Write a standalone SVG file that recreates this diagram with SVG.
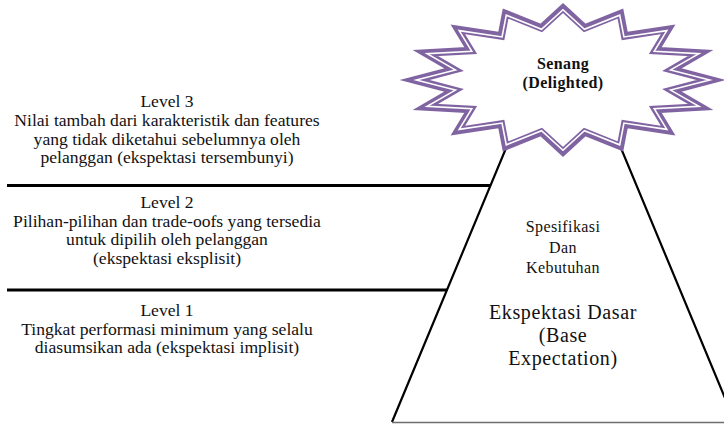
<svg xmlns="http://www.w3.org/2000/svg" width="724" height="424" viewBox="0 0 724 424">
  <style>
    .lvl { font-family: "Liberation Serif", "Times New Roman", serif; font-size: 17.6px; fill: #111; text-anchor: middle; }
    .pyr { font-family: "Liberation Serif", "Times New Roman", serif; fill: #111; text-anchor: middle; }
    .star-text { font-family: "Liberation Serif", "Times New Roman", serif; font-size: 16px; font-weight: bold; fill: #111; text-anchor: middle; letter-spacing: 0.4px; }
    .divider { stroke: #000; stroke-width: 3; fill: none; }
  </style>
  <defs>
    <!-- 16-point burst centred at (563,80) -->
    <path id="burst" d="M563,8 L584.7,28 L620.4,13.6 L624.7,35.9 L668.1,29.4 L655.3,50.6 L700.6,53.1 L671.9,69.7 L711.5,80 L671.9,90.3 L700.6,106.9 L655.3,109.4 L668.1,130.6 L624.7,124.1 L620.4,146.4 L584.7,132 L563,152 L541.3,132 L505.6,146.4 L501.3,124.1 L457.9,130.6 L470.7,109.4 L425.4,106.9 L454.1,90.3 L414.5,80 L454.1,69.7 L425.4,53.1 L470.7,50.6 L457.9,29.4 L501.3,35.9 L505.6,13.6 L541.3,28 Z"/>
  </defs>
  <rect width="724" height="424" fill="#fff"/>

  <!-- level dividers -->
  <g id="connectors">
    <line class="divider" x1="7" y1="185.5" x2="490" y2="185.5"/>
    <line class="divider" x1="7" y1="290" x2="447" y2="290"/>
  </g>

  <!-- pyramid -->
  <g id="pyramid">
    <polyline points="392,422 563.5,10 735,422" fill="#fff" stroke="#000" stroke-width="2.2" stroke-linejoin="miter"/>
    <line x1="392" y1="422.5" x2="724" y2="422.5" stroke="#6e6e6e" stroke-width="1.5"/>
    <text class="pyr" font-size="16" letter-spacing="0.4" x="563" y="232">Spesifikasi</text>
    <text class="pyr" font-size="16" letter-spacing="0.4" x="563" y="253">Dan</text>
    <text class="pyr" font-size="16" letter-spacing="0.4" x="563" y="273">Kebutuhan</text>
    <text class="pyr" font-size="20" letter-spacing="0.6" x="563" y="319">Ekspektasi Dasar</text>
    <text class="pyr" font-size="20" letter-spacing="0.6" x="563" y="342">(Base</text>
    <text class="pyr" font-size="20" letter-spacing="0.6" x="563" y="365">Expectation)</text>
  </g>

  <!-- burst at the apex: thick outer rim with a thin inner rim -->
  <g id="senang">
    <use href="#burst" fill="#fff" stroke="#8064A2" stroke-width="7.5" stroke-linejoin="miter" stroke-miterlimit="12"/>
    <use href="#burst" fill="none" stroke="#fff" stroke-width="1.6" stroke-linejoin="miter" stroke-miterlimit="12" transform="translate(563 80) scale(0.988 0.976) translate(-563 -80)"/>
    <text class="star-text" x="563" y="69">Senang</text>
    <text class="star-text" x="563" y="88">(Delighted)</text>
  </g>

  <g id="level3">
    <text class="lvl" x="167" y="107">Level 3</text>
    <text class="lvl" x="167" y="126">Nilai tambah dari karakteristik dan features</text>
    <text class="lvl" x="167" y="144.5">yang tidak diketahui sebelumnya oleh</text>
    <text class="lvl" x="167" y="163">pelanggan (ekspektasi tersembunyi)</text>
  </g>

  <g id="level2">
    <text class="lvl" x="167" y="208">Level 2</text>
    <text class="lvl" x="167" y="226.5">Pilihan-pilihan dan trade-oofs yang tersedia</text>
    <text class="lvl" x="167" y="245">untuk dipilih oleh pelanggan</text>
    <text class="lvl" x="167" y="263.5">(ekspektasi eksplisit)</text>
  </g>

  <g id="level1">
    <text class="lvl" x="167" y="316">Level 1</text>
    <text class="lvl" x="167" y="334.5">Tingkat performasi minimum yang selalu</text>
    <text class="lvl" x="167" y="353">diasumsikan ada (ekspektasi implisit)</text>
  </g>
</svg>
